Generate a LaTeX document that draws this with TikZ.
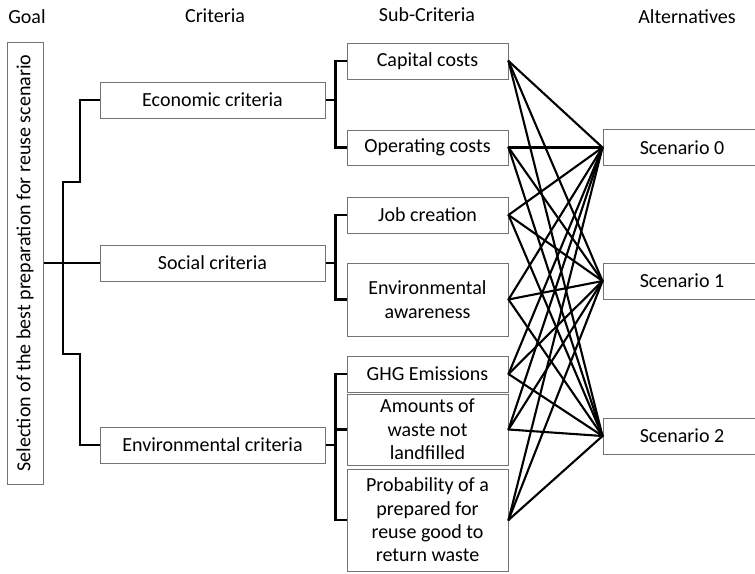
\documentclass[tikz,border=0pt]{standalone}
\usepackage{fontspec}
\setmainfont{Carlito}
\begin{document}
\begin{tikzpicture}[x=1pt,y=-1pt,
  every node/.style={font=\fontsize{20}{23.3}\selectfont, text=black},
  box/.style={draw=black!55, line width=1pt, inner sep=0pt, align=center},
  title/.style={inner sep=0pt},
  tree/.style={line width=2.2pt, line join=miter},
  link/.style={line width=2.1pt, line cap=round}]
\useasboundingbox (0,0) rectangle (755,573);

% column headings
\node[title] (hgoal) at (27,17) {Goal};
\node[title] (hcrit) at (215,16) {Criteria};
\node[title] (hsub)  at (427,15) {Sub-Criteria};
\node[title] (halt)  at (687,17) {Alternatives};

% goal
\node[box, minimum width=442pt, minimum height=36pt, rotate=90] (goal) at (25,263)
  {Selection of the best preparation for reuse scenario};

% criteria
\tikzset{crit/.style={box, minimum width=225pt, minimum height=36pt}}
\node[crit] (econ)   at (212.5,100) {Economic criteria};
\node[crit] (social) at (212.5,263) {Social criteria};
\node[crit] (env)    at (212.5,445) {Environmental criteria};

% sub-criteria
\tikzset{sub/.style={box, minimum width=161pt}}
\node[sub, minimum height=36pt]  (capital) at (427.5,61)    {Capital costs};
\node[sub, minimum height=35pt]  (oper)    at (427.5,147.5) {Operating costs};
\node[sub, minimum height=36pt]  (job)     at (427.5,215)   {Job creation};
\node[sub, minimum height=73pt]  (aware)   at (427.5,299.5) {Environmental\\awareness};
\node[sub, minimum height=36pt]  (ghg)     at (427.5,374)   {GHG Emissions};
\node[sub, minimum height=71pt]  (amount)  at (427.5,429.5) {Amounts of\\waste not\\landfilled};
\node[sub, minimum height=102pt] (prob)    at (427.5,520)   {Probability of a\\prepared for\\reuse good to\\return waste};

% alternatives (boxes run past the right edge)
\tikzset{alt/.style={box, minimum width=158pt, minimum height=36pt}}
\node[alt] (s0) at (682,147.5) {Scenario 0};
\node[alt] (s1) at (682,281)   {Scenario 1};
\node[alt] (s2) at (682,436)   {Scenario 2};

% goal to criteria
\coordinate (gtop) at (63,182);
\coordinate (gbot) at (63,354);
\coordinate (etop) at (80,182);
\coordinate (ebot) at (80,445);
\draw[tree] (econ.west) -| (etop) -| (gbot) -| (ebot) -- (env.west);
\draw[tree] (goal.south) -- (social.west);

% criteria to sub-criteria
\draw[tree] (capital.west) -- ++(-11,0) |- (oper.west);
\draw[tree] (econ.east) -- ++(11,0);
\draw[tree] (job.west) -- ++(-11,0) |- (aware.west);
\draw[tree] (social.east) -- ++(11,0);
\draw[tree] (ghg.west) -- ++(-11,0) |- (prob.west);
\draw[tree] (amount.west) -- ++(-11,0);
\draw[tree] (env.east) -- ++(11,0);

% every sub-criterion to every alternative
\foreach \s in {capital,oper,job,aware,ghg,amount,prob}
  \foreach \a in {s0,s1,s2}
    \draw[link] (\s.east) -- (\a.west);
\end{tikzpicture}
\end{document}
